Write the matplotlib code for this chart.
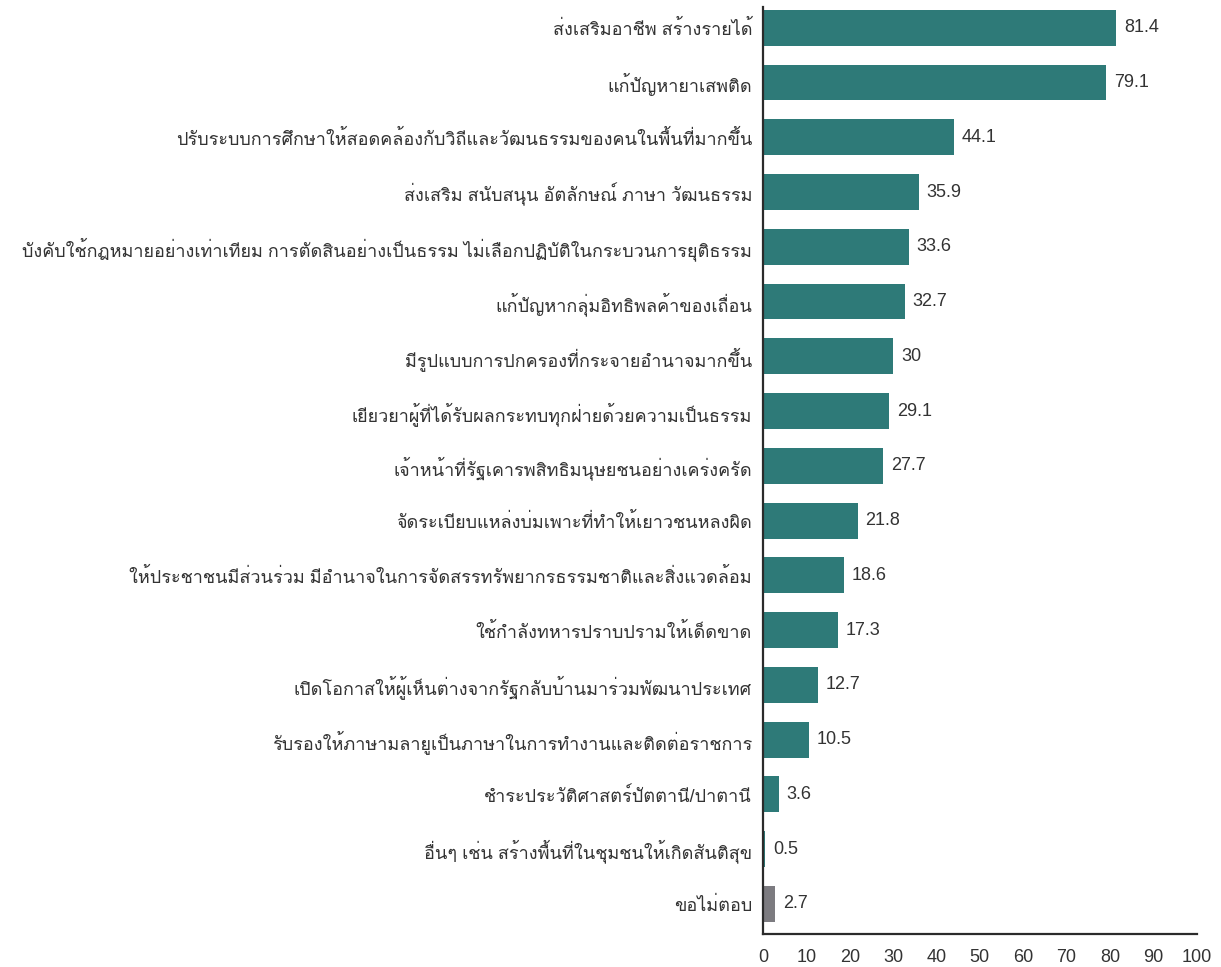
import matplotlib
matplotlib.use("Agg")
import matplotlib.pyplot as plt

labels = [
    "ส่งเสริมอาชีพ สร้างรายได้",
    "แก้ปัญหายาเสพติด",
    "ปรับระบบการศึกษาให้สอดคล้องกับวิถีและวัฒนธรรมของคนในพื้นที่มากขึ้น",
    "ส่งเสริม สนับสนุน อัตลักษณ์ ภาษา วัฒนธรรม",
    "บังคับใช้กฎหมายอย่างเท่าเทียม การตัดสินอย่างเป็นธรรม ไม่เลือกปฏิบัติในกระบวนการยุติธรรม",
    "แก้ปัญหากลุ่มอิทธิพลค้าของเถื่อน",
    "มีรูปแบบการปกครองที่กระจายอำนาจมากขึ้น",
    "เยียวยาผู้ที่ได้รับผลกระทบทุกฝ่ายด้วยความเป็นธรรม",
    "เจ้าหน้าที่รัฐเคารพสิทธิมนุษยชนอย่างเคร่งครัด",
    "จัดระเบียบแหล่งบ่มเพาะที่ทำให้เยาวชนหลงผิด",
    "ให้ประชาชนมีส่วนร่วม มีอำนาจในการจัดสรรทรัพยากรธรรมชาติและสิ่งแวดล้อม",
    "ใช้กำลังทหารปราบปรามให้เด็ดขาด",
    "เปิดโอกาสให้ผู้เห็นต่างจากรัฐกลับบ้านมาร่วมพัฒนาประเทศ",
    "รับรองให้ภาษามลายูเป็นภาษาในการทำงานและติดต่อราชการ",
    "ชำระประวัติศาสตร์ปัตตานี/ปาตานี",
    "อื่นๆ เช่น สร้างพื้นที่ในชุมชนให้เกิดสันติสุข",
    "ขอไม่ตอบ",
]
values = [81.4, 79.1, 44.1, 35.9, 33.6, 32.7, 30, 29.1, 27.7, 21.8, 18.6, 17.3, 12.7, 10.5, 3.6, 0.5, 2.7]
value_text = ["81.4", "79.1", "44.1", "35.9", "33.6", "32.7", "30", "29.1", "27.7", "21.8",
              "18.6", "17.3", "12.7", "10.5", "3.6", "0.5", "2.7"]

teal = "#2e7a78"
grey = "#7c7b80"
colors = [teal] * (len(values) - 1) + [grey]

# digits from a Helvetica-like face, Thai from Loma (stacks tone marks without shaping)
plt.rcParams["font.family"] = ["Liberation Sans", "Loma", "DejaVu Sans"]

fig = plt.figure(figsize=(12.21, 9.67), dpi=100)
ax = fig.add_axes([0.625, 0.0341, 0.98 - 0.625, 0.9928 - 0.0341])

pos = list(range(len(labels)))
ax.barh(pos, values, height=0.655, color=colors)
for p, v, t in zip(pos, values, value_text):
    ax.text(v + 1.8, p, t, va="center", ha="left", fontsize=13, color="#333333")

ax.set_xlim(0, 100)
ax.set_ylim(16.55, -0.38)
ax.set_xticks(range(0, 101, 10))
ax.set_yticks(pos)
ax.set_yticklabels(labels)
ax.tick_params(axis="y", length=0, pad=8, labelsize=13, labelcolor="#333333")
ax.tick_params(axis="x", length=0, pad=11, labelsize=13, labelcolor="#333333")
for s in ["top", "right"]:
    ax.spines[s].set_visible(False)
for s in ["left", "bottom"]:
    ax.spines[s].set_color("#2b2b2b")
    ax.spines[s].set_linewidth(1.6)

fig.savefig("out.png", dpi=100)
